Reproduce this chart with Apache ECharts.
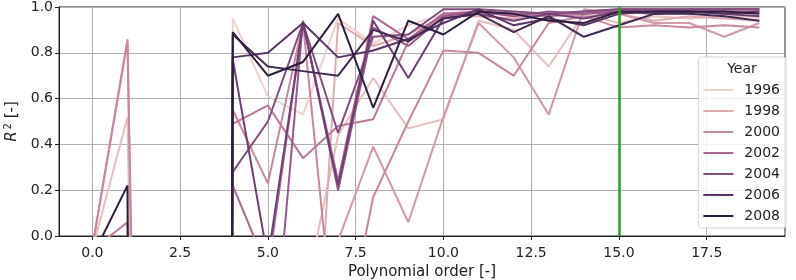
<!DOCTYPE html>
<html>
<head>
<meta charset="utf-8">
<script src="https://cdn.jsdelivr.net/npm/echarts@6/dist/echarts.min.js"></script>
<style>
  html, body { margin: 0; padding: 0; background: #fff; }
  #chart { width: 796px; height: 280px; }
</style>
</head>
<body>
<div id="chart"></div>
<script>
// polynomial orders 0..19
var orders = [0,1,2,3,4,5,6,7,8,9,10,11,12,13,14,15,16,17,18,19];
var years = ['1996','1997','1998','1999','2000','2001','2002','2003','2004','2005','2006','2007','2008'];
var legendYears = ['1996','1998','2000','2002','2004','2006','2008'];
var xTicks = [0, 2.5, 5, 7.5, 10, 12.5, 15, 17.5];
var chosenOrder = 15;

// R^2 per year (values below 0 fall outside the visible range)
var r1996 = [-0.6, -3, -25, -45, 0.95, 0.61, 0.53, 0.95, 0.84, 0.92, 0.97, 0.98, 0.96, 0.97, 0.98, 0.98, 0.98, 0.97, 0.98, 0.95];
var r1997 = [-0.06, 0.52, -8, -35, -3, -2, -0.3, 0.44, 0.69, 0.47, 0.51, 0.94, 0.90, 0.74, 0.97, 0.93, 0.96, 0.95, 0.96, 0.96];
var r1998 = [-0.8, -2, -20, -40, -4, -3, -1.5, 0.93, 0.83, 0.88, 0.96, 0.96, 0.95, 0.97, 0.96, 0.97, 0.94, 0.96, 0.95, 0.94];
var r1999 = [-0.05, 0.86, -8, -35, -2, -1.5, -1, -0.02, 0.39, 0.06, 0.52, 0.93, 0.78, 0.53, 0.99, 0.97, 0.93, 0.93, 0.87, 0.93];
var r2000 = [-0.05, 0.85, -7, -35, 0.55, 0.23, 0.93, -0.6, 0.17, 0.50, 0.81, 0.80, 0.70, 0.93, 0.96, 0.91, 0.92, 0.91, 0.92, 0.91];
var r2001 = [-0.06, 0.06, -6, -30, 0.49, 0.57, 0.34, 0.48, 0.51, 0.85, 0.97, 0.97, 0.97, 0.96, 0.97, 0.98, 0.97, 0.98, 0.98, 0.98];
var r2002 = [-1, -3, -20, -40, 0.22, -0.15, 0.93, 0.24, 0.96, 0.86, 0.97, 0.98, 0.97, 0.97, 0.98, 0.99, 0.99, 0.99, 0.99, 0.99];
var r2003 = [-1.2, -3, -20, -40, -1, -0.8, 0.94, 0.20, 0.91, 0.83, 0.96, 0.98, 0.96, 0.98, 0.97, 0.98, 0.98, 0.99, 0.99, 0.99];
var r2004 = [-1, -3, -20, -40, 0.28, 0.50, 0.93, 0.45, 0.87, 0.88, 0.99, 0.99, 0.98, 0.97, 0.98, 0.99, 0.99, 0.99, 0.99, 0.99];
var r2005 = [-1, -3, -20, -40, 0.77, -0.1, 0.93, 0.22, 0.94, 0.69, 0.95, 0.97, 0.94, 0.97, 0.95, 0.98, 0.97, 0.98, 0.97, 0.96];
var r2006 = [-1, -3, -20, -40, 0.78, 0.80, 0.93, 0.78, 0.81, 0.86, 0.93, 0.99, 0.92, 0.95, 0.92, 0.97, 0.98, 0.98, 0.97, 0.98];
var r2007 = [-1, -3, -20, -40, 0.88, 0.74, 0.72, 0.70, 0.90, 0.85, 0.95, 0.97, 0.89, 0.96, 0.87, 0.92, 0.97, 0.97, 0.96, 0.94];
var r2008 = [-0.09, 0.22, -30, -40, 0.89, 0.70, 0.76, 0.97, 0.56, 0.94, 0.88, 0.98, 0.97, 0.94, 0.93, 0.98, 0.98, 0.98, 0.98, 0.97];
var rValues = [r1996, r1997, r1998, r1999, r2000, r2001, r2002, r2003, r2004, r2005, r2006, r2007, r2008];

var colors = ['#edd1cb','#e6bebc','#deabb0','#d499a7','#c8879e','#ba7797','#aa678f',
              '#975987','#834c7d','#6e4071','#583463','#422952','#2d1e3e'];

var font = 'DejaVu Sans';
var txt = '#222';

// vertical grid lines at the x ticks (axis min is not on a tick)
var series = [{
  name: 'xgrid',
  type: 'line',
  data: [],
  z: 1,
  silent: true,
  markLine: {
    silent: true,
    symbol: 'none',
    z: 1,
    label: { show: false },
    lineStyle: { color: '#b0b0b0', width: 1, type: 'solid' },
    data: xTicks.map(function (v) { return { xAxis: v }; })
  }
}];

years.forEach(function (y, i) {
  var s = {
    name: y,
    type: 'line',
    symbol: 'none',
    z: 2,
    color: colors[i],
    lineStyle: { color: colors[i], width: 2 },
    data: orders.map(function (o, j) { return [o, rValues[i][j]]; })
  };
  if (i === years.length - 1) {
    s.markLine = {
      silent: true,
      symbol: 'none',
      label: { show: false },
      lineStyle: { color: '#2ca02c', width: 2.5, type: 'solid' },
      data: [{ xAxis: chosenOrder }]
    };
  }
  series.push(s);
});

var myChart = echarts.init(document.getElementById('chart'));
var option = {
  animation: false,
  textStyle: { fontFamily: font },
  grid: {
    left: 59, right: 11, top: 7, bottom: 44,
    outerBoundsMode: 'none',
    show: true, borderColor: '#222', borderWidth: 1
  },
  xAxis: {
    type: 'value',
    min: -0.95,
    max: 19.73,
    name: 'Polynomial order [-]',
    nameLocation: 'middle',
    nameGap: 28,
    nameTextStyle: { fontSize: 15, color: txt, fontFamily: font },
    axisLine: { show: true, onZero: false, lineStyle: { color: '#222', width: 1 } },
    axisTick: { show: true, length: 4, lineStyle: { color: '#222' }, customValues: xTicks },
    axisLabel: {
      fontSize: 14, color: txt, margin: 10, fontFamily: font,
      customValues: xTicks,
      formatter: function (v) { return v.toFixed(1); }
    },
    splitLine: { show: false }
  },
  yAxis: {
    type: 'value',
    min: 0,
    max: 1,
    interval: 0.2,
    name: '{i|R}{s|2} [-]',
    nameLocation: 'middle',
    nameGap: 38,
    nameTextStyle: {
      fontSize: 15, color: txt, fontFamily: font,
      rich: {
        i: { fontSize: 15, fontStyle: 'italic', color: txt, fontFamily: font },
        s: { fontSize: 10, color: txt, fontFamily: font, padding: [0, 0, 8, 2] }
      }
    },
    axisLine: { show: true, onZero: false, lineStyle: { color: '#222', width: 1 } },
    axisTick: { show: true, length: 4, lineStyle: { color: '#222' } },
    axisLabel: {
      fontSize: 14, color: txt, margin: 6, fontFamily: font,
      formatter: function (v) { return v.toFixed(1); }
    },
    splitLine: { show: true, lineStyle: { color: '#b0b0b0', width: 1 } }
  },
  legend: {
    data: legendYears,
    orient: 'vertical',
    right: 10,
    top: 57,
    padding: [26, 6, 5, 5],
    icon: 'rect',
    itemWidth: 30,
    itemHeight: 2,
    itemGap: 7,
    backgroundColor: 'rgba(255,255,255,0.85)',
    borderColor: '#d5d5d5',
    borderWidth: 1,
    borderRadius: 3,
    textStyle: { fontSize: 14, color: txt, fontFamily: font, padding: [0, 0, 0, 6] }
  },
  graphic: [{
    type: 'text',
    x: 742,
    y: 69,
    z: 100,
    style: {
      text: 'Year',
      textAlign: 'center',
      textVerticalAlign: 'middle',
      font: '14px "DejaVu Sans"',
      fill: txt
    }
  }],
  series: series
};
myChart.setOption(option);
window.addEventListener('resize', function () {
  myChart.resize();
});
</script>
</body>
</html>
